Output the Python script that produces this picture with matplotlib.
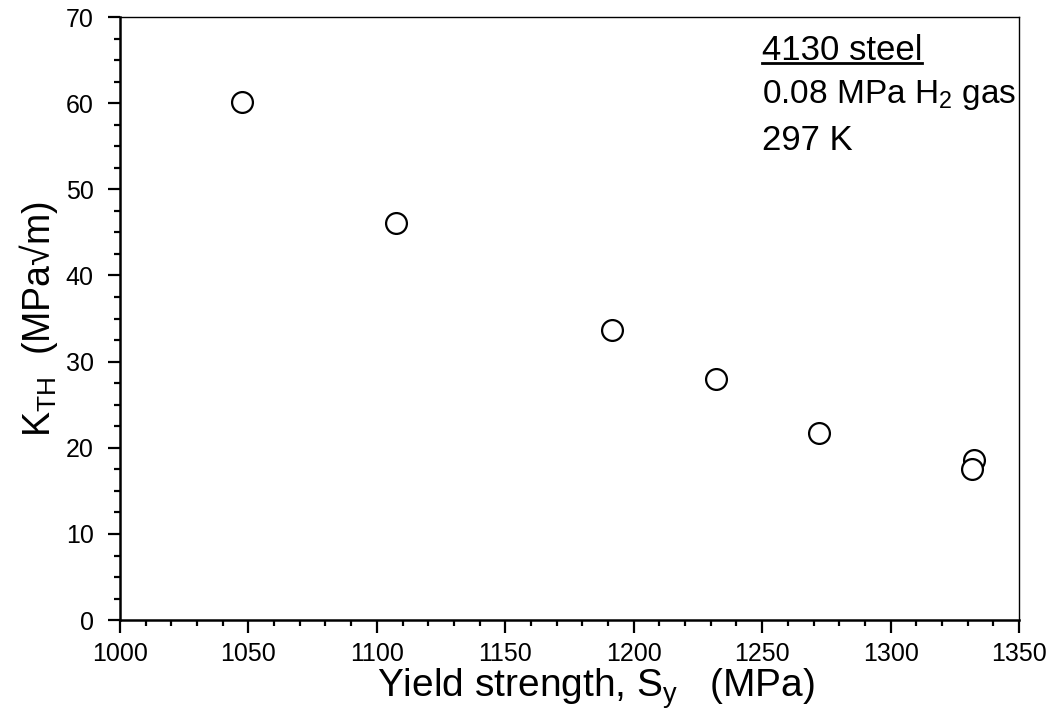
import matplotlib
matplotlib.use("Agg")
import matplotlib.pyplot as plt
from matplotlib.ticker import MultipleLocator

plt.rcParams['font.family'] = ['Liberation Sans', 'DejaVu Sans']
plt.rcParams['mathtext.fontset'] = 'custom'
plt.rcParams['mathtext.rm'] = 'Liberation Sans'
plt.rcParams['mathtext.it'] = 'Liberation Sans'
plt.rcParams['mathtext.default'] = 'regular'

# yield strength (MPa) and threshold stress intensity (MPa sqrt m)
yield_strength = [1047.5, 1107.5, 1191.4, 1232.0, 1272.0, 1332.5, 1331.5]
k_th = [60.1, 46.1, 33.7, 28.0, 21.7, 18.6, 17.5]

fig = plt.figure(figsize=(10.56, 7.27), dpi=100)
ax = fig.add_axes([0.1136, 0.147, 0.8514, 0.8296])

ax.plot(yield_strength, k_th, 'o', ls='none', ms=15, mfc='white',
        mec='black', mew=1.6, clip_on=False)

ax.set_xlim(1000, 1350)
ax.set_ylim(0, 70)
ax.xaxis.set_major_locator(MultipleLocator(50))
ax.xaxis.set_minor_locator(MultipleLocator(10))
ax.yaxis.set_major_locator(MultipleLocator(10))
ax.yaxis.set_minor_locator(MultipleLocator(2.5))

ax.tick_params(which='major', direction='out', length=9, width=1.6,
               labelsize=18)
ax.tick_params(axis='x', which='major', pad=7)
ax.tick_params(axis='y', which='major', pad=10)
ax.tick_params(which='minor', direction='out', length=4.5, width=1.6)
for side in ['left', 'bottom']:
    ax.spines[side].set_linewidth(1.8)
for side in ['top', 'right']:
    ax.spines[side].set_linewidth(1.0)

ax.set_xlabel('Yield strength, S$_y$   (MPa)', fontsize=28, labelpad=0)
ax.xaxis.label.set_x(0.53)
ax.set_ylabel('K$_{TH}$  (MPa√m)', fontsize=27, labelpad=4)

t = ax.text(0.714, 0.945, '4130 steel', transform=ax.transAxes, fontsize=25,
            va='center', ha='left')
ax.text(0.714, 0.871, '0.08 MPa H$_2$ gas', transform=ax.transAxes,
        fontsize=24, va='center', ha='left')
ax.text(0.714, 0.796, '297 K', transform=ax.transAxes, fontsize=25,
        va='center', ha='left')

# underline the title text
fig.canvas.draw()
bb = t.get_window_extent().transformed(ax.transAxes.inverted())
ax.plot([bb.x0, bb.x1], [bb.y0 + 0.006, bb.y0 + 0.006], color='black',
        lw=2.0, transform=ax.transAxes, clip_on=False)

fig.savefig('out.png', dpi=100)
